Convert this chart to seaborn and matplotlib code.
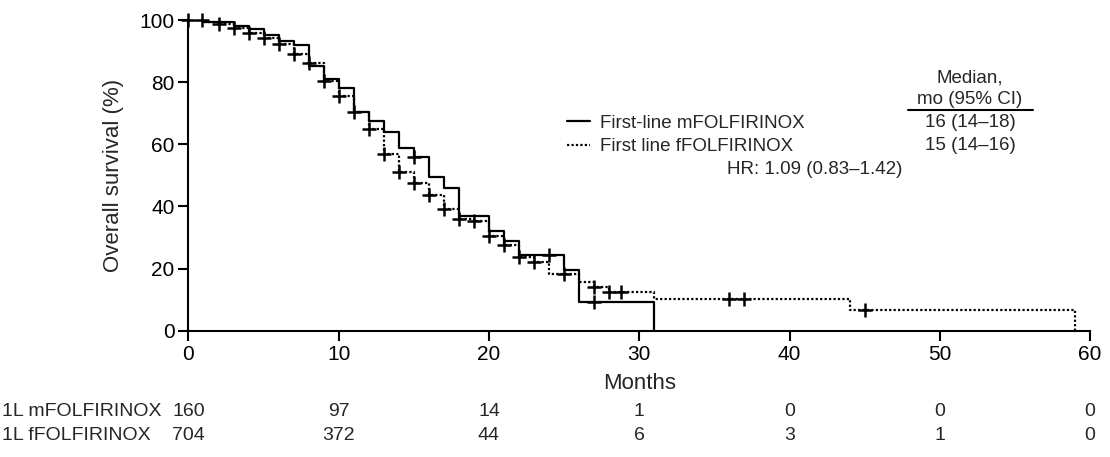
import numpy as np
import matplotlib
matplotlib.use("Agg")
import matplotlib.pyplot as plt
import seaborn as sns

# Kaplan-Meier steps (month, survival % after the step)
m_times = [0, 1, 3, 4, 5, 6, 7, 8, 9, 10, 11, 12, 13, 14, 15, 16, 17, 18, 20, 21, 22, 25, 26]
m_surv = [100, 99.4, 98.1, 97.0, 95.2, 93.2, 91.9, 85.2, 81.1, 78.1, 70.5, 67.5, 64.1, 58.8,
          56.0, 49.6, 45.8, 37.0, 32.0, 29.0, 24.3, 19.5, 9.3]
m_end = 31
m_censor = [15, 24, 27]

f_times = [0, 1, 2, 3, 4, 5, 6, 7, 8, 9, 10, 11, 12, 13, 14, 15, 16, 17, 18, 19, 20, 21, 22,
           23, 24, 26, 27, 28, 31, 44]
f_surv = [100, 99.5, 98.8, 97.3, 95.9, 94.1, 92.2, 89.0, 86.0, 80.4, 75.6, 70.3, 64.9, 56.9,
          51.0, 47.4, 43.7, 39.1, 36.0, 35.4, 30.5, 27.7, 23.6, 22.0, 18.2, 15.8, 14.0, 12.3,
          10.2, 6.7]
f_end = 59
f_censor = [0, 0.9, 2, 3, 4, 5, 6, 7, 8, 9, 10, 11, 12, 13, 14, 15, 16, 17, 18, 19, 20, 21, 22,
            23, 25, 27, 28, 28.8, 36, 37, 45]

labels = ["First-line mFOLFIRINOX", "First line fFOLFIRINOX"]
risk_labels = ["1L mFOLFIRINOX", "1L fFOLFIRINOX"]
risk_times = [0, 10, 20, 30, 40, 50, 60]
m_risk = [160, 97, 14, 1, 0, 0, 0]
f_risk = [704, 372, 44, 6, 3, 1, 0]
medians = ["16 (14\u201318)", "15 (14\u201316)"]
hr_text = "HR: 1.09 (0.83\u20131.42)"

sns.set_style("ticks")
plt.rcParams["font.family"] = ["Liberation Sans", "DejaVu Sans"]


def km_xy(times, surv, end):
    x = list(times) + [end]
    y = list(surv) + [0]
    return np.array(x, float), np.array(y, float)


def censor_y(times, surv, cens):
    idx = np.searchsorted(times, cens, side="right") - 1
    return np.array(surv)[idx]


fig = plt.figure(figsize=(11.1, 4.57), dpi=100)
W, H = 1110, 457
ax = fig.add_axes([188.5 / W, 1 - 330.7 / H, (1090 - 188.5) / W, (330.7 - 20) / H])

mx, my = km_xy(m_times, m_surv, m_end)
fx, fy = km_xy(f_times, f_surv, f_end)
sns.lineplot(x=mx, y=my, drawstyle="steps-post", color="black", lw=1.6,
             estimator=None, sort=False, ax=ax)
sns.lineplot(x=fx, y=fy, drawstyle="steps-post", color="black", lw=1.6,
             linestyle=(0, (1, 1)), estimator=None, sort=False, ax=ax)

sns.scatterplot(x=m_censor, y=censor_y(m_times, m_surv, m_censor), marker="+", s=100,
                color="black", linewidth=1.8, ax=ax, clip_on=False, zorder=4, legend=False)
sns.scatterplot(x=f_censor, y=censor_y(f_times, f_surv, f_censor), marker="+", s=100,
                color="black", linewidth=1.8, ax=ax, clip_on=False, zorder=4, legend=False)

ax.set_xlim(0, 60)
ax.set_ylim(0, 100)
ax.set_xticks(risk_times)
ax.set_yticks([0, 20, 40, 60, 80, 100])
ax.tick_params(axis="both", length=7, width=1.5, labelsize=15, color="black", labelcolor="black")
ax.tick_params(axis="x", pad=3)
ax.tick_params(axis="y", pad=3)
for s in ["left", "bottom"]:
    ax.spines[s].set_linewidth(1.5)
    ax.spines[s].set_color("black")
sns.despine(ax=ax)
ax.set_xlabel("Months", fontsize=16, labelpad=6.5)
ax.set_ylabel("Overall survival (%)", fontsize=16)
ax.yaxis.set_label_coords((124 - 188.5) / (1090 - 188.5), 0.5)

leg = ax.legend(ax.lines[:2], labels, loc="center left", frameon=False, fontsize=13.5,
                handlelength=1.25, handletextpad=0.5, labelspacing=0.35, borderpad=0,
                borderaxespad=0, bbox_to_anchor=(567 / W, 1 - 135 / H),
                bbox_transform=fig.transFigure)

fig.text(727 / W, 1 - 169 / H, hr_text, fontsize=13.5, ha="left", va="center")

cx = 970 / W
fig.text(cx, 1 - 78 / H, "Median,", fontsize=13.5, ha="center", va="center")
fig.text(cx, 1 - 99 / H, "mo (95% CI)", fontsize=13.5, ha="center", va="center")
fig.add_artist(plt.Line2D([908 / W, 1033 / W], [1 - 110 / H, 1 - 110 / H],
                          transform=fig.transFigure, color="black", lw=1.5))
fig.text(cx, 1 - 123 / H, medians[0], fontsize=13.5, ha="center", va="center")
fig.text(cx, 1 - 145 / H, medians[1], fontsize=13.5, ha="center", va="center")

# numbers at risk
trans = matplotlib.transforms.blended_transform_factory(ax.transData, fig.transFigure)
for row, (lab, vals) in enumerate(zip(risk_labels, [m_risk, f_risk])):
    yy = 1 - (411 + 25 * row) / H
    fig.text(2 / W, yy, lab, fontsize=14, ha="left", va="center")
    for t, v in zip(risk_times, vals):
        ax.text(t, yy, str(v), fontsize=14, ha="center", va="center", transform=trans)

fig.savefig("out.png", dpi=100)
